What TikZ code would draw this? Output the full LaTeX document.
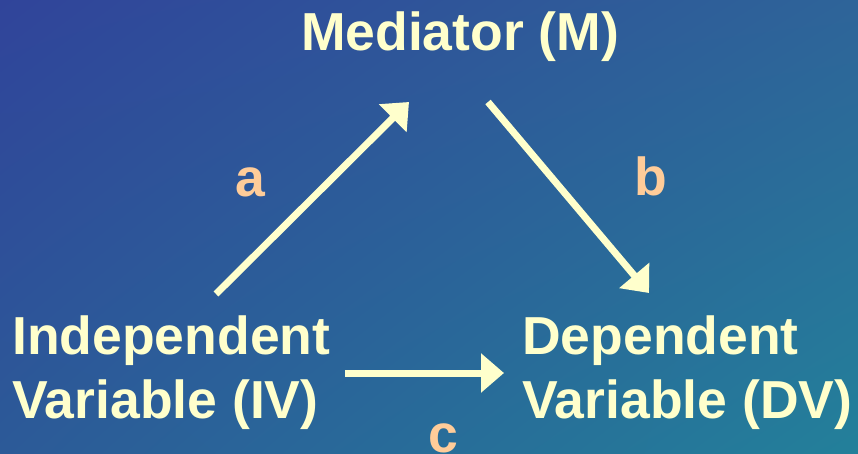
\documentclass[tikz,border=0pt]{standalone}
\usepackage{fontspec}
\setmainfont{Liberation Sans}
\usetikzlibrary{arrows.meta,shadings}
\definecolor{txt}{HTML}{FFFFCC}
\definecolor{lbl}{HTML}{FFCC99}
\definecolor{bgTL}{HTML}{30449A}
\definecolor{bgTR}{HTML}{2E6499}
\definecolor{bgBL}{HTML}{2C5A98}
\definecolor{bgBR}{HTML}{23809A}
\tikzset{
  term/.style={inner sep=0pt, text=txt, font=\fontsize{53.5}{64}\selectfont\bfseries},
  vlabel/.style={inner sep=0pt, text=lbl, font=\fontsize{53.5}{64}\selectfont\bfseries},
  link/.style={draw=txt, line width=7pt, -{Triangle[length=23pt,width=38pt]}}
}
\begin{document}
\begin{tikzpicture}[x=1pt,y=1pt]
\shade[upper left=bgTL, upper right=bgTR, lower left=bgBL, lower right=bgBR] (0,0) rectangle (858,453);
\useasboundingbox (0,0) rectangle (858,453);
\node[term, anchor=base] (m) at (460,402) {Mediator (M)};
\node[term, anchor=north west, align=left] (iv) at (12,143.8) {\strut Independent\\\strut Variable (IV)};
\node[term, anchor=north west, align=left] (dv) at (522,143.8) {\strut Dependent\\\strut Variable (DV)};
\node[vlabel, anchor=base] (la) at (250,257) {a};
\node[vlabel, anchor=base] (lb) at (651,258) {b};
\node[vlabel, anchor=base] (lc) at (443,1) {c};
\coordinate (a1) at (216,159);
\coordinate (a2) at (409,351);
\coordinate (b1) at (488,351);
\coordinate (b2) at (649,160);
\coordinate (c1) at (345,80);
\coordinate (c2) at (504,80);
\draw[link] (a1) -- (a2);
\draw[link] (b1) -- (b2);
\draw[link] (c1) -- (c2);
\end{tikzpicture}
\end{document}
